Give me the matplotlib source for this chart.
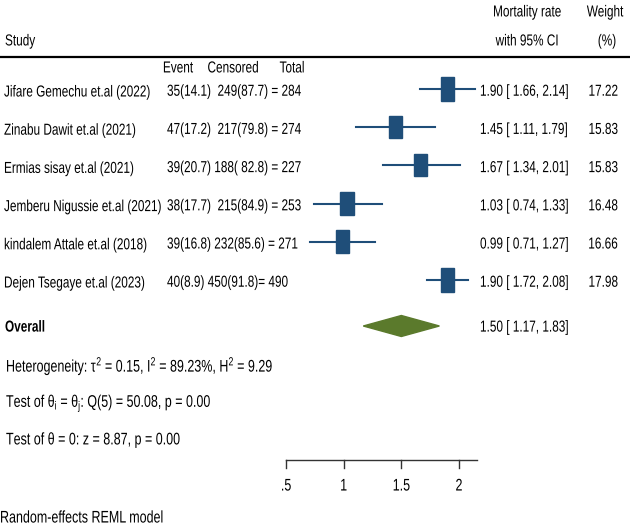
import matplotlib
matplotlib.use("Agg")
import numpy as np
import matplotlib.pyplot as plt
from matplotlib.patches import Rectangle, Polygon
from matplotlib.patheffects import AbstractPathEffect
from matplotlib.transforms import Affine2D

plt.rcParams['font.family'] = ['Liberation Sans', 'DejaVu Sans']
plt.rcParams['mathtext.fontset'] = 'custom'
plt.rcParams['mathtext.rm'] = 'Liberation Sans'
plt.rcParams['mathtext.it'] = 'Liberation Sans'

studies = ["Jifare Gemechu et.al (2022)", "Zinabu Dawit et.al (2021)",
           "Ermias sisay et.al (2021)", "Jemberu Nigussie et.al (2021)",
           "kindalem Attale et.al (2018)", "Dejen Tsegaye et.al (2023)"]
counts = ["35(14.1)  249(87.7) = 284", "47(17.2)  217(79.8) = 274",
          "39(20.7) 188( 82.8) = 227", "38(17.7)  215(84.9) = 253",
          "39(16.8) 232(85.6) = 271", "40(8.9) 450(91.8)= 490"]
rate = [1.90, 1.45, 1.67, 1.03, 0.99, 1.90]
lower = [1.66, 1.11, 1.34, 0.74, 0.71, 1.72]
upper = [2.14, 1.79, 2.01, 1.33, 1.27, 2.08]
weight = [17.22, 15.83, 15.83, 16.48, 16.66, 17.98]
overall = (1.50, 1.17, 1.83)
ticks = [0.5, 1, 1.5, 2]
tick_labels = [".5", "1", "1.5", "2"]

BLUE = "#1f4e79"
GREEN = "#5b7a2c"
FS = 8.5
SY = 1.35  # the reference font is a tall narrow one; stretch glyphs vertically


class Tall(AbstractPathEffect):
    def draw_path(self, renderer, gc, tpath, affine, rgbFace=None):
        em = affine.get_matrix()[1, 1] * 100
        pivot = affine.transform([[0, 0]])[0][1] + 0.35 * em
        aff = affine + Affine2D().translate(0, -pivot).scale(1, SY).translate(0, pivot)
        renderer.draw_path(gc, tpath, aff, rgbFace)


def txt(x, y, s, ha="left", fs=FS, **kw):
    return ax.text(x, y, s, ha=ha, va="center", fontsize=fs, path_effects=[Tall()], **kw)


fig = plt.figure(figsize=(6.3, 5.3), dpi=100)
ax = fig.add_axes([0, 0, 1, 1])
ax.axis("off")

# pixel mapping: x=0.5 -> 286px, x=2 -> 459px ; row 0 -> 89px, 38.2px per row
ppu = (459 - 286) / 1.5
ax.set_xlim(0.5 - 286 / ppu, 0.5 + (630 - 286) / ppu)
rowpx = 38.2
ax.set_ylim((530 - 89) / rowpx, -89 / rowpx)


def py(p):
    return (p - 89) / rowpx


tr = ax.get_yaxis_transform()  # x in axes fraction, y in data

# header
txt(5 / 630, py(41), "Study", transform=tr)
txt(527 / 630, py(12), "Mortality rate", ha="center", transform=tr)
txt(527 / 630, py(41), "with 95% CI", ha="center", transform=tr)
txt(605 / 630, py(12), "Weight", ha="center", transform=tr)
txt(607 / 630, py(41), "(%)", ha="center", transform=tr)
ax.plot([0, 1], [py(57), py(57)], transform=tr, color="black", lw=1.6, clip_on=False)
txt(178 / 630, py(68), "Event", ha="center", transform=tr)
txt(233 / 630, py(68), "Censored", ha="center", transform=tr)
txt(292 / 630, py(68), "Total", ha="center", transform=tr)

# study rows
for i, (s, c, r, lo, hi, w) in enumerate(zip(studies, counts, rate, lower, upper, weight)):
    txt(4 / 630, i + 0.08, s, transform=tr)
    txt(167 / 630, i + 0.06, c, transform=tr)
    ax.plot([lo, hi], [i, i], color=BLUE, lw=1.5)
    bw = 13.5 / ppu * np.sqrt(w / 17)
    bh = 23 / rowpx * np.sqrt(w / 17)
    ax.add_patch(Rectangle((r - bw / 2, i - bh / 2), bw, bh, color=BLUE))
    txt(480 / 630, i + 0.06, f"{r:.2f} [ {lo:.2f}, {hi:.2f}]", transform=tr)
    txt(618 / 630, i + 0.06, f"{w:.2f}", ha="right", transform=tr)

# overall
yo = py(326)
dh = 10.5 / rowpx
m, lo, hi = overall
ax.add_patch(Polygon([[lo, yo], [m, yo - dh], [hi, yo], [m, yo + dh]], color=GREEN))
txt(5 / 630, yo + 0.03, "Overall", fontweight="bold", transform=tr)
txt(480 / 630, yo + 0.03, f"{m:.2f} [ {lo:.2f}, {hi:.2f}]", transform=tr)

txt(6 / 630, py(366), r"Heterogeneity: $\tau^2$ = 0.15, I$^2$ = 89.23%, H$^2$ = 9.29", fs=9, transform=tr)
txt(6 / 630, py(403), r"Test of $\theta_\mathrm{i}$ = $\theta_\mathrm{j}$: Q(5) = 50.08, p = 0.00", fs=9, transform=tr)
txt(6 / 630, py(440), r"Test of $\theta$ = 0: z = 8.87, p = 0.00", fs=9, transform=tr)

# x axis
ya = py(460)
ax.plot([ticks[0], 2.16], [ya, ya], color="#333333", lw=1)
for t, lab in zip(ticks, tick_labels):
    ax.plot([t, t], [ya, ya + 8 / rowpx], color="#333333", lw=1)
    txt(t, py(486), lab, ha="center", fs=9)

txt(0, py(518), "Random-effects REML model", fs=9, transform=tr)

fig.savefig("out.png", dpi=100)
